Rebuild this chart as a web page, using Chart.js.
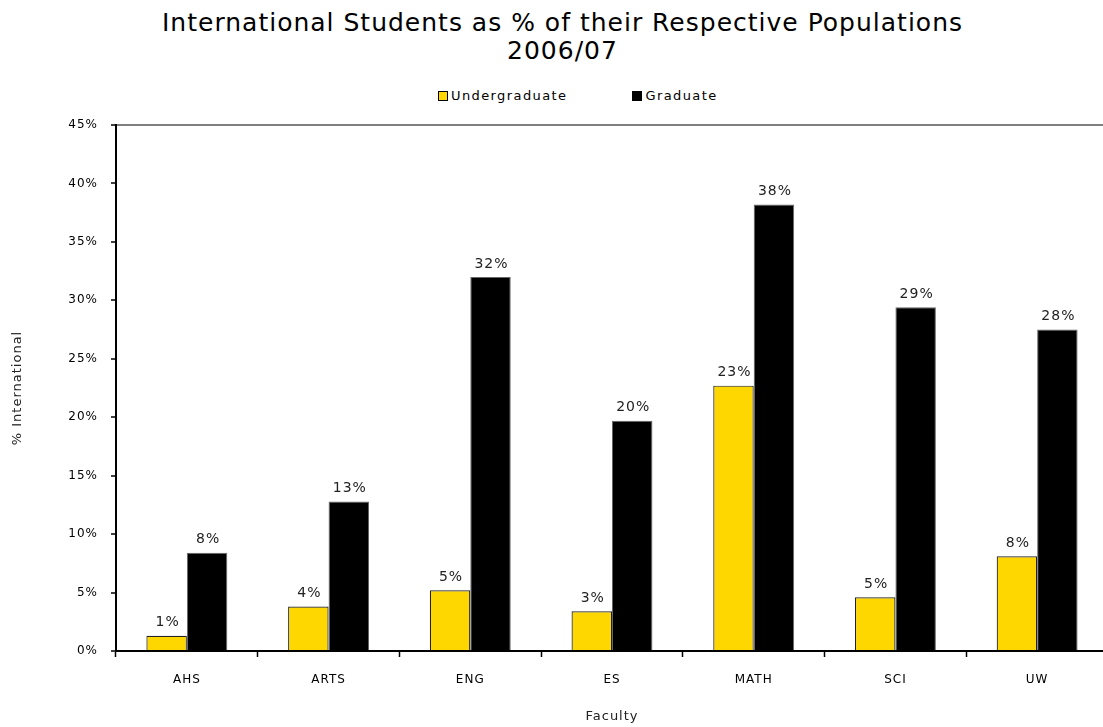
<!DOCTYPE html>
<html>
<head>
<meta charset="utf-8">
<title>International Students as % of their Respective Populations</title>
<script src="https://cdn.jsdelivr.net/npm/chart.js@4/dist/chart.umd.min.js"></script>
<style>
  html, body { margin: 0; padding: 0; background: #fff; overflow: hidden; }
  #wrap { position: relative; width: 1103px; height: 727px; overflow: hidden; font-family: 'DejaVu Sans', Verdana, sans-serif; }
  #title { position: absolute; left: 0; top: 9px; width: 1125px; text-align: center; font-size: 25px; line-height: 28px; letter-spacing: 1px; color: #000; }
  #legend { position: absolute; left: 438px; top: 88px; display: flex; font-size: 13px; letter-spacing: 1.4px; color: #000; }
  #legend .item { display: flex; align-items: center; margin-right: 65px; }
  #legend .box { width: 8px; height: 8px; margin-right: 3px; }
  #chart-box { position: absolute; left: 0; top: 0; width: 1108px; height: 727px; }
</style>
</head>
<body>
<div id="wrap">
  <div id="title">International Students as % of their Respective Populations<br>2006/07</div>
  <div id="legend"></div>
  <div id="chart-box"><canvas id="intlChart"></canvas></div>
</div>
<script>
// Faculty breakdown, % international students
const faculties = ['AHS', 'ARTS', 'ENG', 'ES', 'MATH', 'SCI', 'UW'];
const undergrad = [1.3, 3.8, 5.2, 3.4, 22.7, 4.6, 8.1];
const graduate = [8.4, 12.8, 32.0, 19.7, 38.2, 29.4, 27.5];
const yMax = 45;
const yStep = 5;

const FONT = "'DejaVu Sans', Verdana, sans-serif";

// slightly spaced-out text everywhere on the canvas
const spacedText = {
  id: 'spacedText',
  beforeDraw(chart) {
    chart.ctx.letterSpacing = '1px';
  }
};

// value labels above each bar
const barLabels = {
  id: 'barLabels',
  afterDatasetsDraw(chart) {
    const ctx = chart.ctx;
    ctx.save();
    ctx.font = '14px ' + FONT;
    ctx.fillStyle = '#222';
    ctx.textAlign = 'center';
    ctx.textBaseline = 'bottom';
    chart.data.datasets.forEach((ds, i) => {
      chart.getDatasetMeta(i).data.forEach((bar, j) => {
        ctx.fillText(Math.round(ds.data[j]) + '%', bar.x + 1, bar.y - 6);
      });
    });
    ctx.restore();
  }
};

const chart = new Chart(document.getElementById('intlChart'), {
  type: 'bar',
  data: {
    labels: faculties,
    datasets: [
      {
        label: 'Undergraduate',
        data: undergrad,
        backgroundColor: '#FFD700',
        borderColor: '#222',
        borderWidth: 1.2,
        categoryPercentage: 0.571,
        barPercentage: 1.0,
      },
      {
        label: 'Graduate',
        data: graduate,
        backgroundColor: '#000',
        borderColor: '#666',
        borderWidth: 1,
        categoryPercentage: 0.571,
        barPercentage: 1.0,
      },
    ],
  },
  options: {
    responsive: true,
    maintainAspectRatio: false,
    animation: false,
    layout: { padding: { top: 125, left: 0, right: 0, bottom: 0 } },
    plugins: {
      title: { display: false },
      legend: { display: false },
      tooltip: { enabled: false },
    },
    scales: {
      x: {
        afterFit: s => { s.height = 76; },
        grid: { drawOnChartArea: false, tickLength: 6, tickColor: '#000', tickWidth: 1.5 },
        border: { color: '#000', width: 2 },
        ticks: { color: '#000', font: { family: FONT, size: 12 }, padding: 16 },
        title: { display: true, text: 'Faculty', color: '#222', font: { family: FONT, size: 13 }, padding: { top: 0, bottom: 3 } },
      },
      y: {
        min: 0,
        max: yMax,
        afterFit: s => { s.width = 116; },
        grid: {
          color: c => (c.tick && c.tick.value === yMax ? '#808080' : 'rgba(0,0,0,0)'),
          lineWidth: 2,
          tickLength: 5,
          tickColor: '#000',
          tickWidth: 1.5,
        },
        border: { color: '#000', width: 2 },
        ticks: {
          stepSize: yStep,
          color: '#000',
          font: { family: FONT, size: 12 },
          padding: 13,
          callback: v => v + '%',
        },
        title: { display: true, text: '% International', color: '#222', font: { family: FONT, size: 13 }, padding: { top: 10, bottom: 0 } },
      },
    },
  },
  plugins: [spacedText, barLabels],
});

// legend built from the dataset colours
const legendEl = document.getElementById('legend');
chart.data.datasets.forEach(ds => {
  const item = document.createElement('div');
  item.className = 'item';
  const box = document.createElement('span');
  box.className = 'box';
  box.style.background = ds.backgroundColor;
  box.style.border = '1px solid #000';
  const txt = document.createElement('span');
  txt.textContent = ds.label;
  item.appendChild(box);
  item.appendChild(txt);
  legendEl.appendChild(item);
});
</script>
</body>
</html>
